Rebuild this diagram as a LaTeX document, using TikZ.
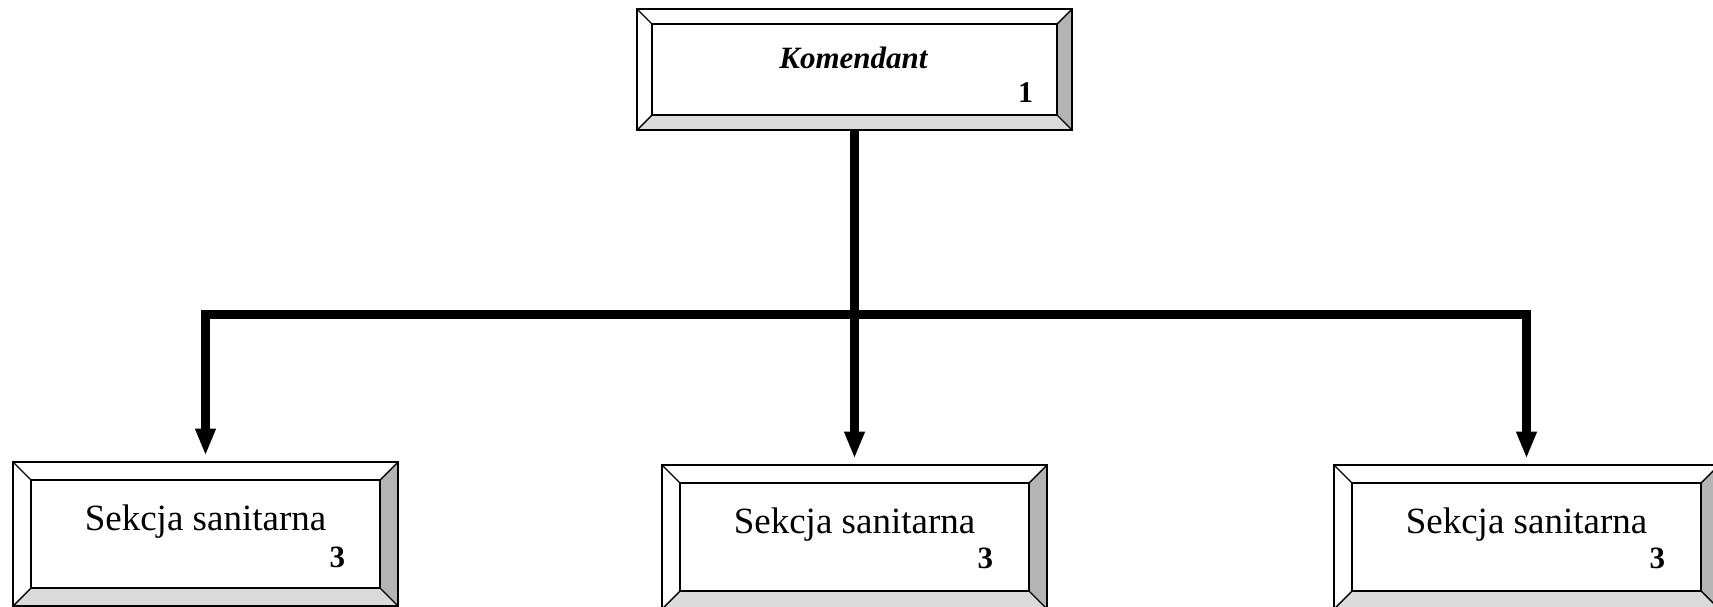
\documentclass[tikz,border=0pt]{standalone}
\usepackage{fontspec}
\setmainfont{Liberation Serif}
\usetikzlibrary{arrows.meta,calc}
\definecolor{bevB}{HTML}{DADADA}
\definecolor{bevR}{HTML}{B4B4B4}
\tikzset{
  box/.style={rectangle, inner sep=0pt, minimum width=192.5pt, minimum height=72pt},
  topbox/.style={rectangle, inner sep=0pt, minimum width=217.5pt, minimum height=60.5pt},
  conn/.style={line width=4.5pt, line join=miter, -{Triangle[width=9.5pt,length=13.5pt]}, shorten >=3pt},
  lbl/.style={font=\fontsize{18.5}{22}\selectfont, anchor=base, inner sep=0pt},
  ttl/.style={font=\fontsize{15.5}{18}\selectfont\bfseries\itshape, anchor=base, inner sep=0pt},
  num/.style={font=\fontsize{15.5}{18}\selectfont\bfseries, anchor=base east, inner sep=0pt},
  numtop/.style={font=\fontsize{15}{18}\selectfont\bfseries, anchor=base east, inner sep=0pt},
  frame/.style={draw=black, line width=1pt},
  diag/.style={draw=black, line width=0.7pt}
}
\newcommand\bevelbox[2]{%
  \fill[bevB] (#1.south west) -- (#1.south east) -- ($(#1.south east)+(-#2,-#2)$) -- ($(#1.south west)+(#2,-#2)$) -- cycle;
  \fill[bevR] (#1.south east) -- (#1.north east) -- ($(#1.north east)+(-#2,#2)$) -- ($(#1.south east)+(-#2,-#2)$) -- cycle;
  \draw[diag] (#1.south west) -- ($(#1.south west)+(#2,-#2)$);
  \draw[diag] (#1.south east) -- ($(#1.south east)+(-#2,-#2)$);
  \draw[diag] (#1.north east) -- ($(#1.north east)+(-#2,#2)$);
  \draw[diag] (#1.north west) -- ($(#1.north west)+(#2,#2)$);
  \draw[frame] (#1.south west) rectangle (#1.north east);
  \draw[frame] ($(#1.south west)+(#2,-#2)$) rectangle ($(#1.north east)+(-#2,#2)$);
}
\begin{document}
\begin{tikzpicture}[x=0.5pt, y=-0.5pt]
  \useasboundingbox (0,0) rectangle (1713,606);
  \clip (0,0) rectangle (1713,606);

  \node[topbox] (k) at (854.5,69.5) {};
  \node[box] (s1) at (205.5,534) {};
  \node[box] (s2) at (854.5,537) {};
  \node[box] (s3) at (1526.5,537) {};

  \bevelbox{k}{15}
  \bevelbox{s1}{18}
  \bevelbox{s2}{18}
  \bevelbox{s3}{18}

  \node[ttl] (kt) at ($(k.north)+(-1,60)$) {Komendant};
  \node[numtop] (kn) at ($(k.north east)+(-39,94)$) {1};

  \node[lbl] (t1) at ($(s1.north)+(0,69)$) {Sekcja sanitarna};
  \node[num] (n1) at ($(s1.north east)+(-53,106)$) {3};
  \node[lbl] (t2) at ($(s2.north)+(0,69)$) {Sekcja sanitarna};
  \node[num] (n2) at ($(s2.north east)+(-54,104)$) {3};
  \node[lbl] (t3) at ($(s3.north)+(0,69)$) {Sekcja sanitarna};
  \node[num] (n3) at ($(s3.north east)+(-54,104)$) {3};

  \coordinate (bus) at (854.5,314);
  \draw[conn] (k.south) -- (s2.north);
  \draw[conn] (bus) -| (s1.north);
  \draw[conn] (bus) -| (s3.north);
\end{tikzpicture}
\end{document}
